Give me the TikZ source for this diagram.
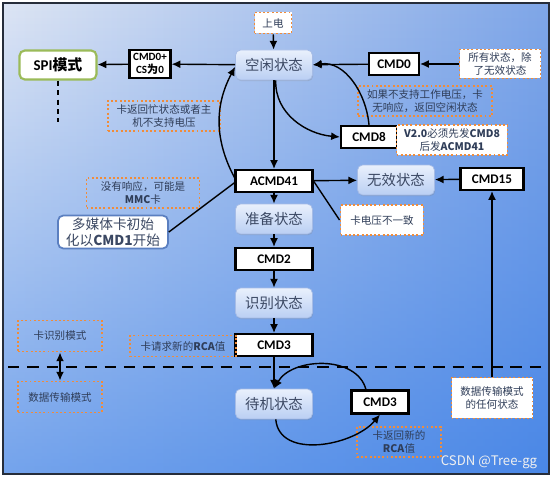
\documentclass[tikz,border=0pt]{standalone}
\usepackage{fontspec}
\setmainfont{Carlito}
\newfontfamily\cjk{Noto Sans CJK SC}
\usetikzlibrary{arrows.meta,shadows,fadings}
\definecolor{bgleft}{HTML}{DDE5F4}
\definecolor{bgright}{HTML}{7FA6E8}
\definecolor{bgover}{HTML}{1E6EE6}
\definecolor{frameline}{HTML}{262D3A}
\definecolor{statetop}{HTML}{E9F0FC}
\definecolor{statebot}{HTML}{BACFF3}
\definecolor{stateline}{HTML}{A6BCE6}
\definecolor{statetext}{HTML}{3B4863}
\definecolor{noteorange}{HTML}{F08C3A}
\definecolor{notetext}{HTML}{2F3D58}
\definecolor{spigreen}{HTML}{9BBB59}
\definecolor{mmcblue}{HTML}{5B7FC0}
\tikzfading[name=downfade, top color=transparent!100, bottom color=transparent!45]
\tikzset{
  arr/.style={-{Latex[length=5pt,width=4.5pt]}, line width=0.8pt},
  state/.style={draw=stateline, rounded corners=3pt, top color=statetop, bottom color=statebot,
    minimum width=1.54cm, minimum height=0.6cm, text=statetext,
    font=\cjk\fontsize{8.2}{9}\selectfont,
    drop shadow={shadow xshift=0.4pt, shadow yshift=-0.7pt, opacity=0.25}},
  cmd/.style={draw, line width=1.2pt, fill=white, minimum height=0.44cm, inner sep=1pt,
    font=\bfseries\fontsize{7.5}{8}\selectfont},
  note/.style={draw=noteorange, dash pattern=on 1.1pt off 1.3pt, line width=1.1pt, align=center,
    inner sep=1pt, text=notetext, font=\cjk\fontsize{6}{7.5}\selectfont},
  spibox/.style={draw=spigreen, line width=1.2pt, rounded corners=3pt, fill=white,
    minimum width=1.54cm, minimum height=0.58cm, font=\bfseries\fontsize{8.5}{9}\selectfont},
  mmcbox/.style={draw=mmcblue, line width=1pt, rounded corners=3pt, fill=white, align=center,
    minimum width=2.2cm, minimum height=0.66cm, inner sep=1pt, text=statetext,
    font=\cjk\fontsize{7.8}{9}\selectfont},
}
\begin{document}
\begin{tikzpicture}[x=0.02cm, y=-0.02cm]
  \useasboundingbox (0,0) rectangle (554,479);
  % Background
  \shade[left color=bgleft, right color=bgright] (3,3) rectangle (549,474);
  \fill[bgover, path fading=downfade] (3,3) rectangle (549,474);
  \draw[frameline, line width=1.4pt] (3,3) rectangle (549,474);
  % Card identification mode
  \node[note, fill=white, minimum width=0.74cm, minimum height=0.42cm] (pwr) at (273,23) {上电};
  \node[state] (idle) at (274,65) {空闲状态};
  \node[spibox] (spi) at (58,65) {SPI{\cjk 模式}};
  \coordinate (spiend) at (58,122);
  \node[cmd, minimum width=0.82cm, minimum height=0.56cm, align=center,
    font=\bfseries\fontsize{6.3}{7.5}\selectfont] (cscmd) at (150,64) {CMD0+\\CS{\cjk 为}0};
  \node[cmd, minimum width=1.0cm] (cmd0) at (394,64) {CMD0};
  \node[note, fill=white, minimum width=1.62cm, minimum height=0.58cm] (allst) at (500,64) {所有状态，除\\了无效状态};
  \node[note, minimum width=2.24cm, minimum height=0.6cm] (busy) at (164,116) {卡返回忙状态或者主\\机不支持电压};
  \node[note, minimum width=2.68cm, minimum height=0.6cm] (novolt) at (425,101) {如果不支持工作电压，卡\\无响应，返回空闲状态};
  \node[cmd, minimum width=1.12cm] (cmd8) at (369,137) {CMD8};
  \node[note, fill=white, minimum width=2.22cm, minimum height=0.6cm] (v20) at (452,140) {\textbf{V2.0}必须先发\textbf{CMD8}\\后发\textbf{ACMD41}};
  \node[cmd, minimum width=1.54cm] (acmd) at (274,181) {ACMD41};
  \node[state] (inval) at (396,180) {无效状态};
  \node[cmd, minimum width=1.26cm] (cmd15) at (492,179) {CMD15};
  \node[note, fill=white, minimum width=1.66cm, minimum height=0.6cm] (volt) at (382,220) {卡电压不一致};
  \node[note, minimum width=2.26cm, minimum height=0.6cm] (noresp) at (143,193) {没有响应，可能是\\\textbf{MMC}卡};
  \node[mmcbox] (mmc) at (113,232) {多媒体卡初始\\化以\textbf{CMD1}开始};
  \node[state] (ready) at (274,219) {准备状态};
  \node[cmd, minimum width=1.54cm] (cmd2) at (274,259) {CMD2};
  \node[state] (ident) at (274,303) {识别状态};
  \node[cmd, minimum width=1.54cm] (cmd3) at (274,345) {CMD3};
  \node[note, minimum width=2.12cm, minimum height=0.42cm] (rca) at (183,346) {卡请求新的\textbf{RCA}值};
  % Mode labels
  \node[note, minimum width=1.68cm, minimum height=0.62cm] (idmode) at (60,336) {卡识别模式};
  \node[note, minimum width=1.68cm, minimum height=0.62cm] (dtmode) at (60,397) {数据传输模式};
  \coordinate (ldash) at (8,367);
  \coordinate (rdash) at (546,367);
  % Data transfer mode
  \node[state] (stby) at (274,404) {待机状态};
  \node[cmd, minimum width=1.14cm, minimum height=0.46cm] (cmd3b) at (380,402) {CMD3};
  \node[note, minimum width=1.68cm, minimum height=0.6cm] (newrca) at (399,442) {卡返回新的\\\textbf{RCA}值};
  \node[note, fill=white, minimum width=1.62cm, minimum height=0.82cm] (anyst) at (492,398) {数据传输模式\\的任何状态};
  \node[text=white!88!gray, font=\cjk\fontsize{7.5}{9}\selectfont] (mark) at (489,462) {CSDN @Tree-gg};
  % Arrows
  \draw[arr] (pwr) -- (idle);
  \draw[arr] (idle) -- (cscmd);
  \draw[arr] (cscmd) -- (spi);
  \draw[dashed, line width=1.1pt, dash pattern=on 3pt off 2.4pt] (spi) -- (spiend);
  \draw[arr] (allst) -- (cmd0);
  \draw[arr] (cmd0) -- (idle);
  \draw[arr] ([xshift=1pt]idle.south) to[out=-92, in=175] (cmd8.west);
  \draw[arr] (cmd8.north) to[out=95, in=8] (idle.east);
  \draw[arr] (idle) -- (acmd);
  \draw[arr] ([yshift=2pt]acmd.west) to[out=118, in=242] ([yshift=-1pt]idle.west);
  \draw[arr] (acmd) -- (inval);
  \draw[arr] (cmd15) -- (inval);
  \draw[arr] (anyst) -- (cmd15);
  \draw[line width=0.8pt] (acmd.east) -- (volt.west);
  \draw[line width=0.8pt] (mmc.east) -- ([yshift=-1pt]acmd.west);
  \draw[arr] (acmd) -- (ready);
  \draw[arr] (ready) -- (cmd2);
  \draw[arr] (cmd2) -- (ident);
  \draw[arr] (ident) -- (cmd3);
  \draw[arr] (cmd3) -- (stby);
  \draw[line width=1.1pt, dash pattern=on 6.5pt off 4.5pt] (ldash) -- (rdash);
  \draw[{Latex[length=5pt,width=4.5pt]}-{Latex[length=5pt,width=4.5pt]}, line width=0.8pt] (idmode) -- (dtmode);
  \draw[arr] ([xshift=-8pt]cmd3b.north) to[out=105, in=60] (stby.north);
  \draw[arr] ([xshift=1pt]stby.south) to[out=-85, in=-130] (cmd3b.south);
\end{tikzpicture}
\end{document}
